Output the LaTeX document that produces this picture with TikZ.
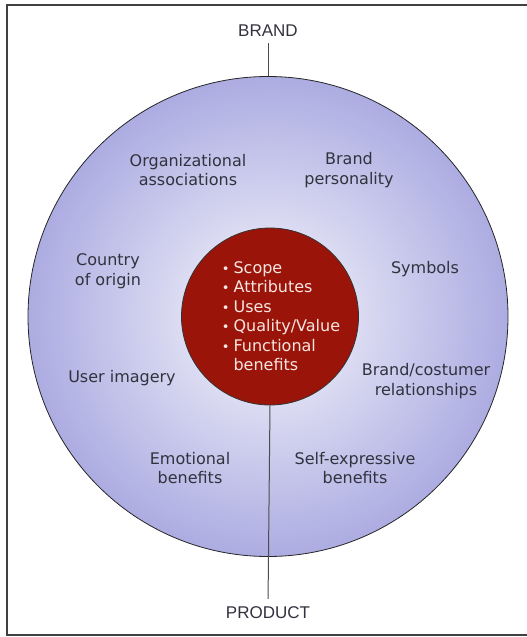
\documentclass[tikz,border=0pt]{standalone}
\usepackage{fontspec}
\setmainfont{DejaVu Sans}
\newfontfamily\capsfont{Liberation Sans}
\usepackage{xcolor}
\usepackage{tikz}
\usetikzlibrary{positioning}

\definecolor{ringedge}{RGB}{172,172,226}
\definecolor{ringmid}{RGB}{247,247,252}
\definecolor{coredark}{RGB}{155,20,10}
\definecolor{coretext}{RGB}{246,230,224}
\definecolor{labelgray}{RGB}{50,50,62}
\newcommand{\dotitem}{{\fontsize{13}{13}\selectfont\textbullet}}

\begin{document}
\begin{tikzpicture}[x=1pt, y=-1pt,
    ringlabel/.style={text=labelgray, align=center,
        font=\fontsize{16}{19.5}\selectfont},
    axislabel/.style={text=labelgray, inner sep=2pt,
        font=\capsfont\fontsize{17}{20}\selectfont},
    spoke/.style={draw=black!70, line width=1pt}]
    \useasboundingbox (0,0) rectangle (527,637);
    \draw [black!75, line width=2pt] (540,5) -- (7,5) -- (7,635) -- (540,635);
    \node [circle, minimum size=480pt, draw=black!85, line width=0.8pt,
        inner color=ringmid, outer color=ringedge] (ring) at (268,316.5) {};
    \node [circle, minimum size=177pt, fill=coredark, draw=black!80,
        line width=0.8pt] (core) at (270,316.5) {};
    \node [text=coretext, font=\fontsize{16}{19.5}\selectfont] (items) at (281,318)
        {\begin{tabular}{@{}l@{\hspace{4pt}}l@{}}
            \dotitem & Scope\\
            \dotitem & Attributes\\
            \dotitem & Uses\\
            \dotitem & Quality/Value\\
            \dotitem & Functional\\
                     & benefits
        \end{tabular}};
    \node [axislabel] (brand) at (268,31) {BRAND};
    \node [axislabel] (product) at (268,613) {PRODUCT};
    \draw [spoke, shorten <=4pt] (brand.south) -- (ring.north);
    \draw [spoke, shorten >=6pt] (core.south) -- (product.north);
    % ring labels
    \node [ringlabel] (orgassoc) at (188,170) {Organizational\\associations};
    \node [ringlabel] (personality) at (349,170) {Brand\\personality};
    \node [ringlabel] (origin) at (108,271) {Country\\of origin};
    \node [ringlabel] (symbols) at (425,269) {Symbols};
    \node [ringlabel] (imagery) at (122,378) {User imagery};
    \node [ringlabel] (relations) at (426,381) {Brand/costumer\\relationships};
    \node [ringlabel] (emotional) at (190,468) {Emotional\\benefits};
    \node [ringlabel] (selfexpr) at (355,468) {Self-expressive\\benefits};
\end{tikzpicture}
\end{document}
